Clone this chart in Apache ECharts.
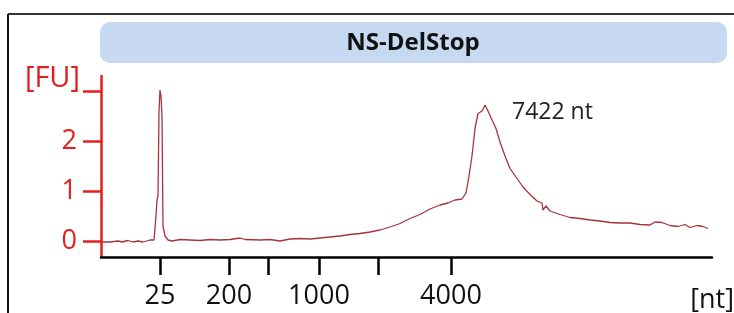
<!DOCTYPE html>
<html>
<head>
<meta charset="utf-8">
<title>NS-DelStop</title>
<script src="https://cdn.jsdelivr.net/npm/echarts@6/dist/echarts.min.js"></script>
<style>
  html, body { margin: 0; padding: 0; background: #fff; }
  #chart { width: 734px; height: 313px; }
</style>
</head>
<body>
<div id="chart"></div>
<script>
// trace: migration position (px-like units from run start) and fluorescence [FU]
var tracePos = [1, 9, 17, 21, 27, 32, 37, 42, 49, 53, 55, 56, 57, 58, 59, 60, 61, 62, 64, 67, 71,
  79, 89, 99, 109, 119, 129, 139, 144, 159, 169, 179, 189, 199, 209, 219, 229, 239, 249, 259, 269,
  279, 289, 299, 309, 319, 329, 339, 347, 354, 361, 365, 368, 371, 374, 377, 381, 384, 387, 391,
  395, 399, 404, 409, 416, 422, 429, 436, 441, 442, 445, 449, 459, 469, 479, 489, 499, 509, 519,
  529, 539, 549, 554, 561, 569, 577, 584, 589, 596, 602, 607];
var traceFU = [-0.02, -0.02, 0.0, -0.02, 0.01, -0.02, 0.0, -0.02, 0.02, 0.02, 0.5, 0.82, 0.9, 2.6,
  3.02, 2.9, 2.5, 0.3, 0.1, 0.02, 0.0, 0.03, 0.02, 0.01, 0.03, 0.02, 0.03, 0.06, 0.03, 0.02, 0.03,
  0.0, 0.04, 0.05, 0.04, 0.06, 0.08, 0.1, 0.13, 0.15, 0.18, 0.22, 0.28, 0.35, 0.45, 0.53, 0.64,
  0.72, 0.76, 0.82, 0.84, 0.96, 1.3, 1.7, 2.25, 2.55, 2.6, 2.72, 2.6, 2.42, 2.25, 1.98, 1.7, 1.45,
  1.25, 1.08, 0.93, 0.8, 0.76, 0.62, 0.7, 0.6, 0.53, 0.47, 0.45, 0.42, 0.4, 0.37, 0.36, 0.36, 0.33,
  0.32, 0.38, 0.37, 0.31, 0.29, 0.33, 0.27, 0.31, 0.29, 0.25];

// ladder ticks along the x axis
var ladderPos = [59, 128, 167, 218, 277, 350];
var ladderLabels = ['25', '200', '', '1000', '', '4000'];
var labelPos = [59, 128, 218, 350];

var fuTicks = [0, 1, 2, 3];
var fuLabels = [0, 1, 2];

var sampleName = 'NS-DelStop';
var peakLabel = '7422 nt';

var traceData = tracePos.map(function (p, i) { return [p, traceFU[i]]; });

var myChart = echarts.init(document.getElementById('chart'));
var red = '#e3201e';
var font = "'Open Sans', sans-serif";

var option = {
  animation: false,
  grid: { left: 101, right: 22, top: 76, bottom: 56 },
  xAxis: {
    type: 'value',
    min: 0,
    max: 611,
    splitLine: { show: false },
    axisLine: { onZero: false, lineStyle: { color: '#000', width: 2.5 } },
    axisTick: { customValues: ladderPos, length: 18, lineStyle: { color: '#000', width: 2.5 } },
    axisLabel: {
      customValues: labelPos,
      margin: 26,
      color: '#111',
      fontFamily: font,
      fontSize: 27,
      formatter: function (v) {
        var i = ladderPos.indexOf(v);
        return i >= 0 ? ladderLabels[i] : '';
      }
    }
  },
  yAxis: {
    type: 'value',
    min: -0.32,
    max: 3.3,
    splitLine: { show: false },
    axisLine: { onZero: false, lineStyle: { color: red, width: 2.5 } },
    axisTick: { customValues: fuTicks, length: 18, lineStyle: { color: red, width: 2.5 } },
    axisLabel: {
      customValues: fuLabels,
      margin: 24,
      color: red,
      fontFamily: font,
      fontSize: 27
    }
  },
  series: [{
    type: 'line',
    data: traceData,
    symbol: 'none',
    lineStyle: { color: '#a8343a', width: 1.3 }
  }],
  graphic: [
    { type: 'line', shape: { x1: 8, y1: 14, x2: 734, y2: 14 }, style: { stroke: '#333', lineWidth: 2 } },
    { type: 'line', shape: { x1: 8, y1: 14, x2: 8, y2: 313 }, style: { stroke: '#111', lineWidth: 2 } },
    { type: 'rect', shape: { x: 100, y: 22, width: 627, height: 41, r: 10 }, style: { fill: '#c6d9f0' } },
    { type: 'text', x: 413, y: 43, style: { text: sampleName, fill: '#111', font: "bold 24px 'Open Sans', sans-serif", align: 'center', verticalAlign: 'middle' } },
    { type: 'text', x: 80, y: 79, style: { text: '[FU]', fill: red, font: "29px 'Open Sans', sans-serif", align: 'right', verticalAlign: 'middle' } },
    { type: 'text', x: 512, y: 112, style: { text: peakLabel, fill: '#222', font: "23px 'Open Sans', sans-serif", align: 'left', verticalAlign: 'middle' } },
    { type: 'text', x: 734, y: 300, style: { text: '[nt]', fill: '#111', font: "27px 'Open Sans', sans-serif", align: 'right', verticalAlign: 'middle' } }
  ]
};

myChart.setOption(option);
</script>
</body>
</html>
